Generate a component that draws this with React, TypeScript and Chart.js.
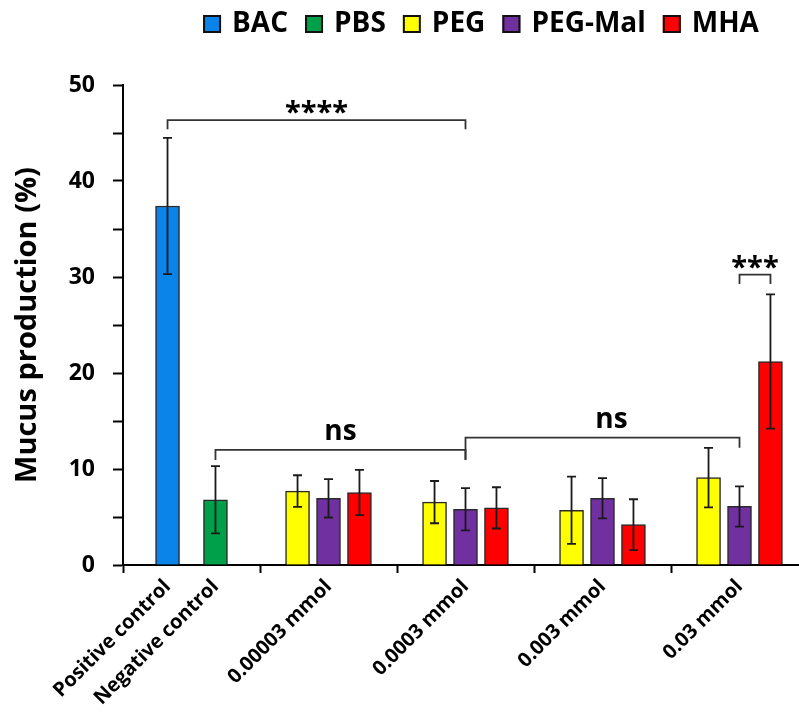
import React, { useEffect, useRef } from 'react';
import { Chart, registerables } from 'chart.js';

Chart.register(...registerables);

// ---------- data ----------
const categories = ['Positive control', 'Negative control', '0.00003 mmol', '0.0003 mmol', '0.003 mmol', '0.03 mmol'];
const seriesNames = ['BAC', 'PBS', 'PEG', 'PEG-Mal', 'MHA'];
const seriesColors = ['#0A84E8', '#00A04A', '#FFFF00', '#7030A0', '#FF0000'];

const bacValues = [37.4];
const bacErrors = [7.1];
const pbsValues = [6.8];
const pbsErrors = [3.5];
const pegValues = [7.7, 6.55, 5.7, 9.1];
const pegErrors = [1.65, 2.2, 3.5, 3.1];
const pegMalValues = [6.95, 5.8, 6.95, 6.1];
const pegMalErrors = [2.0, 2.2, 2.1, 2.1];
const mhaValues = [7.55, 5.95, 4.2, 21.2];
const mhaErrors = [2.35, 2.15, 2.65, 7.0];

const yMin = 0;
const yMax = 50;
const yStep = 5;
const yLabelStep = 10;
const yTitle = 'Mucus production (%)';

// significance annotations: [datasetIndex, dataIndex] of the bars joined, level in % units
const brackets = [
  { from: [0, 0], to: [3, 1], level: 46.35, drops: [0.97, 0.97], text: '****', kind: 'star', dx: 0 },
  { from: [1, 0], to: [3, 1], level: 12.0, drops: [1.05, 1.05], text: 'ns', kind: 'ns', dx: 0 },
  { from: [3, 1], to: [3, 3], level: 13.27, drops: [2.3, 1.05], text: 'ns', kind: 'ns', dx: 9 },
  { from: [3, 3], to: [4, 3], level: 30.25, drops: [0.97, 0.97], text: '***', kind: 'star', dx: 0 },
];

// ---------- layout (x axis in "segment" units) ----------
const SEG_PX = 137;
const AXIS_LEFT = 123;
const W = 799;
const H = 715;
const XMAX = (W - AXIS_LEFT) / SEG_PX;
const GROUP_OFFSET = 0.226;
const catPos = (ci: number) => (ci === 0 ? 0.325 : ci === 1 ? 0.675 : ci - 0.5);
const FONT = '"Open Sans", "DejaVu Sans", sans-serif';

function buildDatasets() {
  const mk = (si: number, values: number[], errors: number[], catIdx: (i: number) => number, off: number) => ({
    label: seriesNames[si],
    backgroundColor: seriesColors[si],
    borderColor: '#2a2a2a',
    borderWidth: 1.5,
    barThickness: 24,
    grouped: false,
    errors,
    data: values.map((v, i) => ({ x: catPos(catIdx(i)) + off, y: v })),
  });
  return [
    mk(0, bacValues, bacErrors, () => 0, 0),
    mk(1, pbsValues, pbsErrors, () => 1, 0),
    mk(2, pegValues, pegErrors, (i) => i + 2, -GROUP_OFFSET),
    mk(3, pegMalValues, pegMalErrors, (i) => i + 2, 0),
    mk(4, mhaValues, mhaErrors, (i) => i + 2, GROUP_OFFSET),
  ];
}

const errorBarPlugin = {
  id: 'errorBars',
  afterDatasetsDraw(chart: any) {
    const ctx = chart.ctx;
    const ys = chart.scales.y;
    ctx.save();
    ctx.strokeStyle = '#1a1a1a';
    ctx.lineWidth = 1.8;
    chart.data.datasets.forEach((ds: any, di: number) => {
      const meta = chart.getDatasetMeta(di);
      meta.data.forEach((bar: any, i: number) => {
        const v = ds.data[i].y;
        const e = ds.errors[i];
        const t = ys.getPixelForValue(v + e);
        const b = ys.getPixelForValue(v - e);
        const x = bar.x;
        ctx.beginPath();
        ctx.moveTo(x, t);
        ctx.lineTo(x, b);
        ctx.moveTo(x - 4.5, t);
        ctx.lineTo(x + 4.5, t);
        ctx.moveTo(x - 4.5, b);
        ctx.lineTo(x + 4.5, b);
        ctx.stroke();
      });
    });
    ctx.restore();
  },
};

const bracketPlugin = {
  id: 'brackets',
  afterDatasetsDraw(chart: any) {
    const ctx = chart.ctx;
    const ys = chart.scales.y;
    ctx.save();
    ctx.strokeStyle = '#333';
    ctx.lineWidth = 1.8;
    ctx.fillStyle = '#000';
    ctx.textAlign = 'center';
    ctx.textBaseline = 'alphabetic';
    brackets.forEach((b) => {
      const x1 = chart.getDatasetMeta(b.from[0]).data[b.from[1]].x;
      const x2 = chart.getDatasetMeta(b.to[0]).data[b.to[1]].x;
      const y = ys.getPixelForValue(b.level);
      const y1 = ys.getPixelForValue(b.level - b.drops[0]);
      const y2 = ys.getPixelForValue(b.level - b.drops[1]);
      ctx.beginPath();
      ctx.moveTo(x1, y1);
      ctx.lineTo(x1, y);
      ctx.lineTo(x2, y);
      ctx.lineTo(x2, y2);
      ctx.stroke();
      if (b.kind === 'star') {
        ctx.font = `bold 29px ${FONT}`;
        ctx.fillText(b.text, (x1 + x2) / 2 + b.dx, y + 2);
      } else {
        ctx.font = `bold 28px ${FONT}`;
        ctx.fillText(b.text, (x1 + x2) / 2 + b.dx, y - 9.5);
      }
    });
    ctx.restore();
  },
};

const legendPlugin = {
  id: 'topLegend',
  afterDraw(chart: any) {
    const ctx = chart.ctx;
    ctx.save();
    ctx.font = `bold 28px ${FONT}`;
    ctx.textBaseline = 'middle';
    ctx.textAlign = 'left';
    const box = 18, gapText = 11, gapItem = 17, centerX = 481, cy = 24;
    const items = chart.data.datasets.map((ds: any) => ({
      text: ds.label,
      color: ds.backgroundColor,
      w: ctx.measureText(ds.label).width,
    }));
    const total = items.reduce((s: number, it: any) => s + box + gapText + it.w, 0) + gapItem * (items.length - 1);
    let x = centerX - total / 2;
    items.forEach((it: any) => {
      ctx.fillStyle = it.color;
      ctx.fillRect(x, cy - box / 2, box, box);
      ctx.strokeStyle = '#111';
      ctx.lineWidth = 2;
      ctx.strokeRect(x + 1, cy - box / 2 + 1, box - 2, box - 2);
      ctx.fillStyle = '#000';
      ctx.fillText(it.text, x + box + gapText, cy);
      x += box + gapText + it.w + gapItem;
    });
    ctx.restore();
  },
};

export default function App() {
  const ref = useRef<HTMLCanvasElement>(null);
  useEffect(() => {
    if (!ref.current) return;
    const chart = new Chart(ref.current, {
      type: 'bar',
      data: { datasets: buildDatasets() as any },
      options: {
        responsive: true,
        maintainAspectRatio: false,
        animation: false,
        layout: { padding: { top: 85, left: 0, right: 0, bottom: 0 } },
        plugins: { legend: { display: false }, tooltip: { enabled: false } },
        scales: {
          x: {
            type: 'linear',
            position: 'bottom',
            min: 0,
            max: XMAX,
            offset: false,
            grid: {
              display: true,
              offset: false,
              drawOnChartArea: false,
              drawTicks: true,
              tickLength: 8,
              color: '#000',
              tickColor: '#000',
              tickWidth: 2,
            },
            border: { display: true, color: '#000', width: 2 },
            ticks: { display: false },
            afterBuildTicks: (s: any) => {
              s.ticks = [0, 1, 2, 3, 4].map((v) => ({ value: v }));
            },
            afterFit: (s: any) => {
              s.height = 8;
            },
          },
          x2: {
            type: 'linear',
            position: 'bottom',
            min: 0,
            max: XMAX,
            offset: false,
            grid: { display: false, drawTicks: false, offset: false },
            border: { display: false },
            ticks: {
              autoSkip: false,
              minRotation: 45,
              maxRotation: 45,
              padding: 2,
              color: '#000',
              font: { family: FONT, weight: 'bold', size: 20 },
              callback: (_v: any, i: number) => categories[i],
            },
            afterBuildTicks: (s: any) => {
              s.ticks = categories.map((_, i) => ({ value: catPos(i) }));
            },
            afterFit: (s: any) => {
              s.height = H - 565 - 8;
            },
          },
          y: {
            min: yMin,
            max: yMax,
            ticks: {
              stepSize: yStep,
              padding: 18,
              color: '#000',
              font: { family: FONT, weight: 'bold', size: 23 },
              callback: (v: any) => (Number(v) % yLabelStep === 0 ? String(v) : ''),
            },
            grid: {
              drawOnChartArea: false,
              tickLength: 10,
              color: '#000',
              tickColor: '#000',
              tickWidth: 2,
            },
            border: { display: true, color: '#000', width: 2 },
            title: {
              display: true,
              text: yTitle,
              color: '#000',
              font: { family: FONT, weight: 'bold', size: 29 },
              padding: { top: 10, bottom: 0 },
            },
            afterFit: (s: any) => {
              s.width = AXIS_LEFT;
            },
          },
        },
      } as any,
      plugins: [errorBarPlugin, bracketPlugin, legendPlugin],
    });
    return () => chart.destroy();
  }, []);

  return (
    <div style={{ position: 'fixed', left: 0, top: 0, width: W, height: H, background: '#fff' }}>
      <canvas ref={ref} />
    </div>
  );
}
